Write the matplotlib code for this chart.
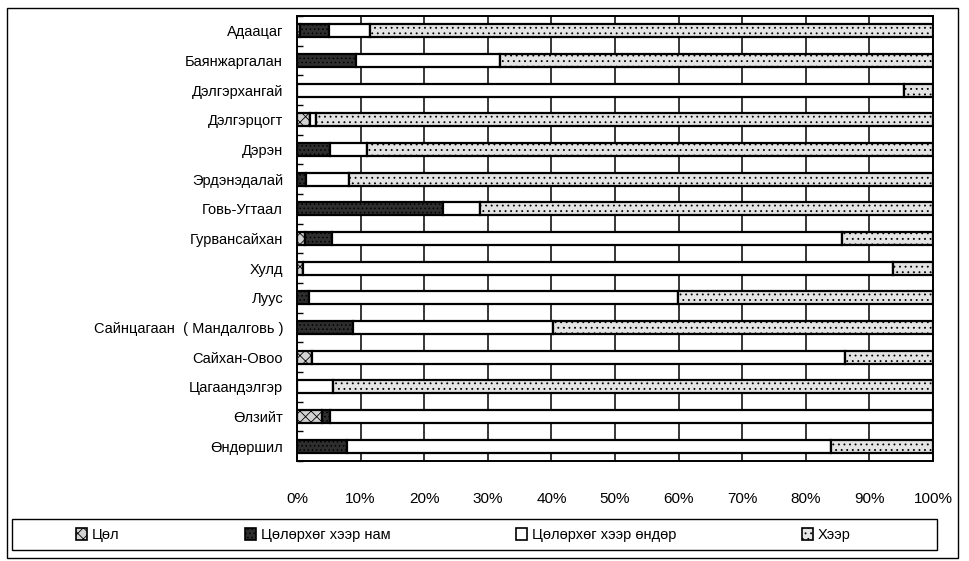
import numpy as np
import matplotlib.pyplot as plt
from matplotlib.patches import Rectangle, Patch

plt.rcParams['font.family'] = ['Liberation Sans', 'DejaVu Sans']
plt.rcParams['hatch.linewidth'] = 0.6

# sums, top to bottom
sums = ['Адаацаг', 'Баянжаргалан', 'Дэлгэрхангай', 'Дэлгэрцогт', 'Дэрэн',
        'Эрдэнэдалай', 'Говь-Угтаал', 'Гурвансайхан', 'Хулд', 'Луус',
        'Сайнцагаан  ( Мандалговь )', 'Сайхан-Овоо', 'Цагаандэлгэр',
        'Өлзийт', 'Өндөршил']

# share of each zone, %
tsol =        [0.5, 0.0, 0.0, 2.0, 0.0, 0.0, 0.0, 1.3, 1.0, 0.0, 0.0, 2.3, 0.0, 4.0, 0.0]
tsol_nam =    [4.5, 9.3, 0.0, 0.0, 5.2, 1.4, 23.0, 4.2, 0.0, 1.9, 8.8, 0.0, 0.0, 1.2, 7.9]
tsol_ondor =  [6.5, 22.6, 95.5, 1.0, 5.8, 6.8, 5.8, 80.2, 92.7, 58.0, 31.4, 83.8, 5.7, 94.8, 76.0]
kheer =       [88.5, 68.1, 4.5, 97.0, 89.0, 91.8, 71.2, 14.3, 6.3, 40.1, 59.8, 13.9, 94.3, 0.0, 16.1]

zones = ['Цөл', 'Цөлөрхөг хээр нам', 'Цөлөрхөг хээр өндөр', 'Хээр']
faces = ['#d2d2d2', '#2e2e2e', 'white', '#e4e4e4']
hatches = ['xxx', '....', None, '...']

data = np.array([tsol, tsol_nam, tsol_ondor, kheer])
y = np.arange(len(sums))

fig = plt.figure(figsize=(9.7, 5.61), dpi=100)
ax = fig.add_axes([297/970, 1 - 461/561, 636/970, 445/561])

left = np.zeros(len(sums))
for vals, fc, h in zip(data, faces, hatches):
    ax.barh(y, vals, left=left, height=0.43, color=fc, hatch=h,
            edgecolor='black', linewidth=1.6, zorder=3)
    left += vals

ax.set_xlim(0, 100)
ax.set_ylim(len(sums) - 0.5, -0.5)
ax.set_xticks(np.arange(0, 101, 10))
ax.set_xticklabels([f'{v}%' for v in range(0, 101, 10)])
ax.set_yticks(y)
ax.set_yticklabels(sums)
ax.set_yticks(np.arange(len(sums) + 1) - 0.5, minor=True)
ax.xaxis.grid(True, color='black', linewidth=1.1, zorder=0)
ax.tick_params(axis='x', length=0, pad=22, labelsize=11)
ax.tick_params(axis='y', length=0, pad=10, labelsize=10.5)
ax.tick_params(axis='y', which='minor', direction='in', length=4, width=1)
for s in ax.spines.values():
    s.set_linewidth(1.4)

# outer frame and legend box
fig.patches.append(Rectangle((7/970, 1 - 558/561), 951/970, 550/561,
                             transform=fig.transFigure, fill=False,
                             edgecolor='black', linewidth=1.0))
fig.patches.append(Rectangle((12/970, 1 - 550/561), 925/970, 31/561,
                             transform=fig.transFigure, fill=False,
                             edgecolor='black', linewidth=1.0))

handles = [Patch(facecolor=fc, hatch=h, edgecolor='black', linewidth=1.2)
           for fc, h in zip(faces, hatches)]
fig.legend(handles, zones, loc='center', ncol=4, frameon=False,
           bbox_to_anchor=(463/970, 1 - 535/561), fontsize=10.5,
           handlelength=0.8, handleheight=0.8, handletextpad=0.3,
           columnspacing=8.6)

fig.savefig('out.png', dpi=100)
